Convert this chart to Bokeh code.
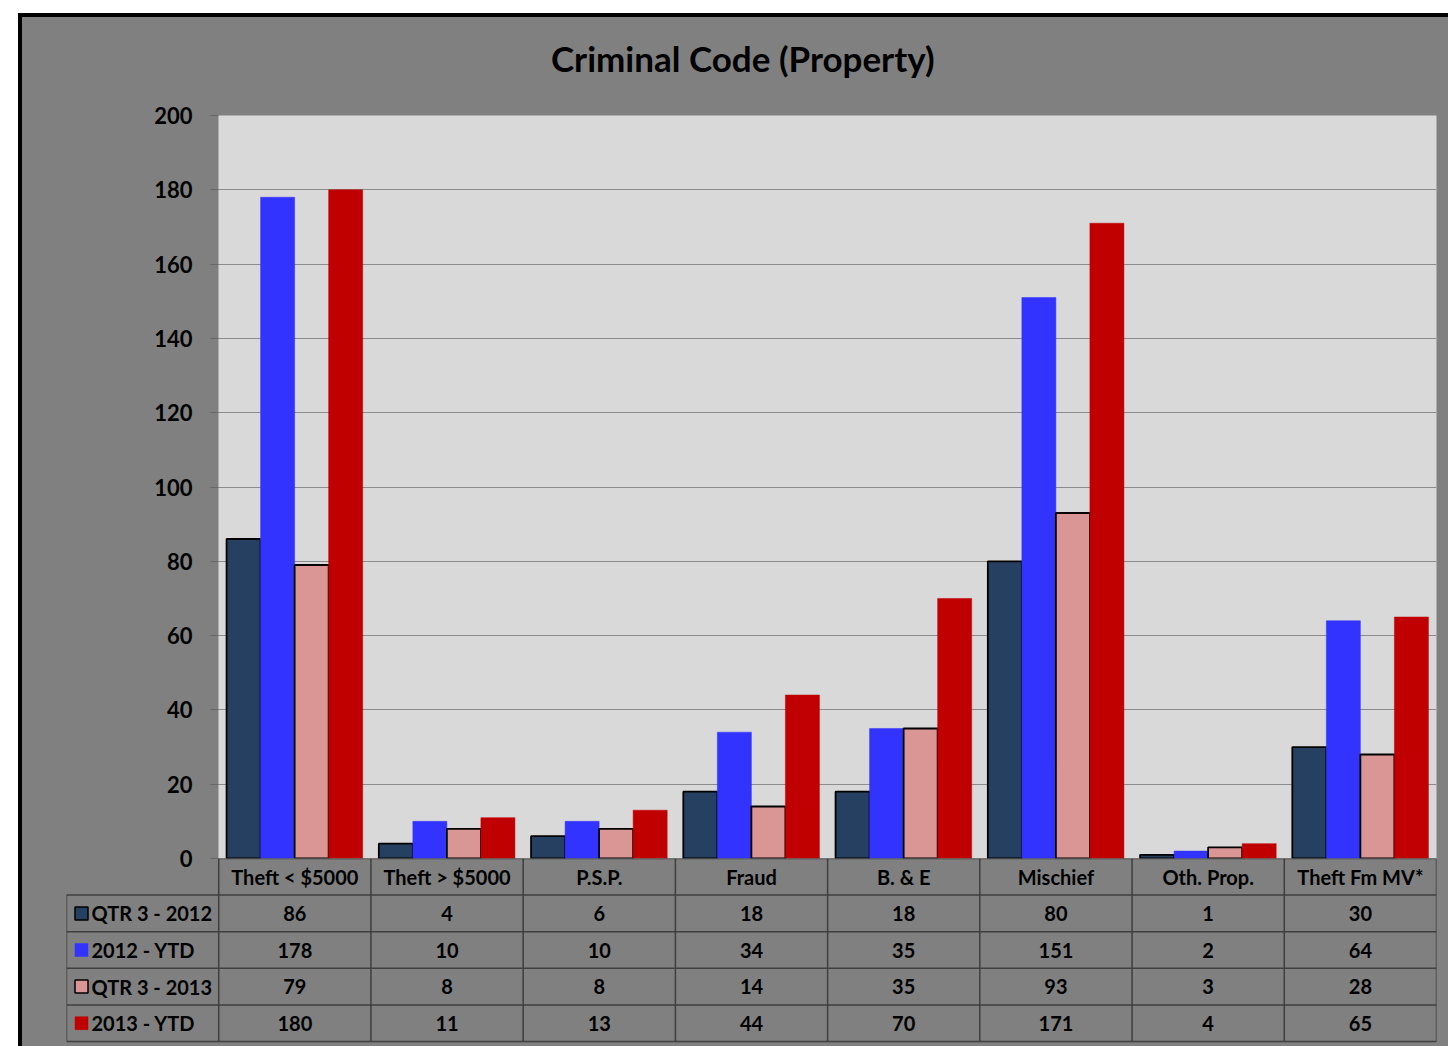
from bokeh.plotting import figure
from bokeh.layouts import column
from bokeh.models import ColumnDataSource, FactorRange, Range1d, FixedTicker, Div
from bokeh.transform import dodge
from bokeh.core.properties import value
from bokeh.embed import file_html
from bokeh.resources import INLINE

# ---- data ----
categories = ["Theft < $5000", "Theft > $5000", "P.S.P.", "Fraud", "B. & E",
              "Mischief", "Oth. Prop.", "Theft Fm MV*"]
series_names = ["QTR 3 - 2012", "2012 - YTD", "QTR 3 - 2013", "2013 - YTD"]
qtr3_2012 = [86, 4, 6, 18, 18, 80, 1, 30]
ytd_2012 = [178, 10, 10, 34, 35, 151, 2, 64]
qtr3_2013 = [79, 8, 8, 14, 35, 93, 3, 28]
ytd_2013 = [180, 11, 13, 44, 70, 171, 4, 65]
y_ticks = [0, 20, 40, 60, 80, 100, 120, 140, 160, 180, 200]
title_text = "Criminal Code (Property)"

series_values = [qtr3_2012, ytd_2012, qtr3_2013, ytd_2013]
colors = ["#254061", "#3333FF", "#D99694", "#C00000"]
outlines = ["black", None, "black", None]

FONT = "Lato"
GRAY = "#808080"
W = 1426
OVERLAP = 16
TITLE_H = 84

# ---- title ----
title_div = Div(
    text=('<div style="margin-left:529px; padding-top:20px; line-height:42px; '
          'font-family:Lato; font-weight:bold; font-size:35px; color:black; '
          'white-space:nowrap">%s</div>' % title_text),
    width=W, height=TITLE_H, margin=(0, 0, 0, 0))

# ---- chart ----
src = ColumnDataSource(dict(cat=categories, s0=qtr3_2012, s1=ytd_2012,
                            s2=qtr3_2013, s3=ytd_2013))

p = figure(x_range=FactorRange(*categories, range_padding=0),
           y_range=Range1d(0, 200), width=W, height=14 + 743 + OVERLAP,
           output_backend="svg", toolbar_location=None, x_axis_location=None,
           min_border_left=196, min_border_right=12, min_border_top=14,
           min_border_bottom=OVERLAP, title=None)
p.background_fill_color = "#D9D9D9"
p.border_fill_color = GRAY
p.outline_line_color = None

bw = 0.2235
offsets = [-1.5 * bw, -0.5 * bw, 0.5 * bw, 1.5 * bw]
for k in range(4):
    p.vbar(x=dodge("cat", offsets[k], range=p.x_range), top="s%d" % k,
           width=bw, source=src, fill_color=colors[k],
           line_color=outlines[k] if outlines[k] else colors[k],
           line_width=1.8 if outlines[k] else 0.5)

p.yaxis.ticker = FixedTicker(ticks=y_ticks)
p.yaxis.axis_line_color = None
p.yaxis.major_tick_line_color = "#666666"
p.yaxis.major_tick_out = 8
p.yaxis.major_tick_in = 0
p.yaxis.minor_tick_line_color = None
p.yaxis.major_label_standoff = 18
p.yaxis.major_label_text_font = FONT
p.yaxis.major_label_text_font_size = "22px"
p.yaxis.major_label_text_font_style = "bold"
p.yaxis.major_label_text_color = "black"
p.xgrid.grid_line_color = None
p.ygrid.grid_line_color = "#8C8C8C"
p.ygrid.grid_line_width = 1
p.ygrid.ticker = FixedTicker(ticks=y_ticks)

# ---- data table ----
n = len(categories)
nrows = len(series_names) + 1
row_px = 36.6
t_h = 188
t = figure(x_range=Range1d(-1, n), y_range=Range1d(nrows - t_h / row_px, nrows),
           width=W, height=t_h, output_backend="svg", toolbar_location=None,
           x_axis_location=None, y_axis_location=None,
           min_border_left=44, min_border_right=12, min_border_top=0,
           min_border_bottom=0,
           styles={"margin-top": "-%dpx" % OVERLAP})
t.background_fill_color = None
t.border_fill_color = None
t.outline_line_color = None
t.grid.visible = False

try:
    p.frame_align = False
    t.frame_align = False
except Exception:
    pass

LINE = "#3F3F3F"
hx0, hx1, hy = [0], [n], [nrows]
for r in range(nrows):
    hx0.append(-1); hx1.append(n); hy.append(r)
t.segment(x0=hx0, x1=hx1, y0=hy, y1=hy, line_color=LINE, line_width=1.5)
vx, vy0, vy1 = [-1], [0], [nrows - 1]
for c in range(n + 1):
    vx.append(c); vy0.append(0); vy1.append(nrows)
t.segment(x0=vx, x1=vx, y0=vy0, y1=vy1, line_color=LINE, line_width=1.5)

FS = "20px"
xc = [i + 0.5 for i in range(n)]
t.text(x=xc, y=[nrows - 0.5] * n, text=categories, text_align="center",
       text_baseline="middle", text_font=value(FONT), text_font_size=FS,
       text_font_style="bold", text_color="black")
col_px = 1370 / (n + 1)
for k in range(4):
    yk = nrows - 1.5 - k
    t.text(x=xc, y=[yk] * n, text=[str(v) for v in series_values[k]],
           text_align="center", text_baseline="middle", text_font=value(FONT),
           text_font_size=FS, text_font_style="bold", text_color="black")
    t.scatter(x=[-1 + 15 / col_px], y=[yk], marker="square", size=13,
              fill_color=colors[k],
              line_color=outlines[k] if outlines[k] else colors[k],
              line_width=1.5 if outlines[k] else 0.5)
    t.text(x=[-1], y=[yk], text=[series_names[k]], x_offset=25,
           text_align="left", text_baseline="middle", text_font=value(FONT),
           text_font_size=FS, text_font_style="bold", text_color="black")

layout = column(title_div, p, t, spacing=0,
                styles={"margin-left": "18px", "margin-top": "13px",
                        "border-top": "4px solid black",
                        "border-left": "4px solid black",
                        "background-color": GRAY})

open("out.html", "w").write(file_html(layout, INLINE))
